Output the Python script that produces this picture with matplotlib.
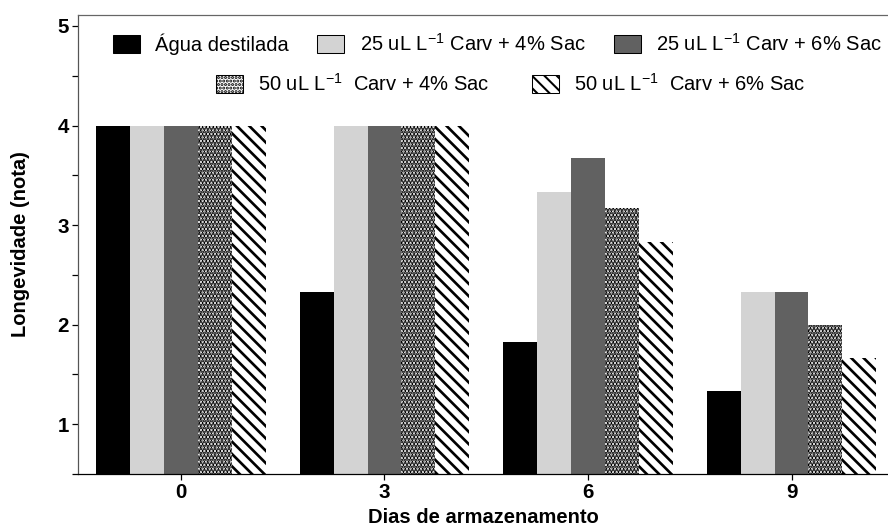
"""Longevidade (nota) por dias de armazenamento, barras agrupadas com hachura."""

import matplotlib

matplotlib.use("Agg")
import numpy as np
from matplotlib import pyplot as plt
from matplotlib.patches import Patch
from matplotlib.ticker import MultipleLocator

plt.rcParams["font.family"] = ["Liberation Sans", "DejaVu Sans"]
plt.rcParams["mathtext.fontset"] = "custom"
plt.rcParams["mathtext.rm"] = "Liberation Sans"
plt.rcParams["mathtext.it"] = "Liberation Sans"

days = ["0", "3", "6", "9"]
treatments = [
    "Água destilada",
    "25 uL L$^{-1}$ Carv + 4% Sac",
    "25 uL L$^{-1}$ Carv + 6% Sac",
    "50 uL L$^{-1}$  Carv + 4% Sac",
    "50 uL L$^{-1}$  Carv + 6% Sac",
]
agua = [4.0, 2.33, 1.83, 1.33]
carv25_sac4 = [4.0, 4.0, 3.33, 2.33]
carv25_sac6 = [4.0, 4.0, 3.67, 2.33]
carv50_sac4 = [4.0, 4.0, 3.17, 2.0]
carv50_sac6 = [4.0, 4.0, 2.83, 1.67]
series = [agua, carv25_sac4, carv25_sac6, carv50_sac4, carv50_sac6]

# estilo de cada tratamento: (cor de fundo, hachura, espessura da hachura)
styles = [
    ("#000000", None, 0),
    ("#d3d3d3", None, 0),
    ("#616161", None, 0),
    ("#ffffff", "." * 7, 1.5),
    ("#ffffff", "\\" * 4, 1.3),
]

DPI = 148
figure = plt.figure(figsize=(888 / DPI, 530 / DPI), dpi=DPI)
axis = figure.add_axes((78 / 888, 56 / 530, 810 / 888, 459 / 530))

x = np.arange(len(days))
width = 1 / 6
for index, (values, (color, hatch, hatch_width)) in enumerate(zip(series, styles)):
    bars = axis.bar(
        x + (index - 2) * width,
        values,
        width=width,
        color=color,
        edgecolor="black",
        linewidth=0,
        hatch=hatch,
    )
    for bar in bars:
        bar.set_hatch_linewidth(hatch_width)

axis.set_xlim(-0.506, 3.474)
axis.set_ylim(0.5, 5.11)
axis.set_xticks(x, days)
axis.yaxis.set_major_locator(MultipleLocator(1))
axis.yaxis.set_minor_locator(MultipleLocator(0.5))
axis.tick_params(axis="both", which="major", length=3, width=0.6, labelsize=10, pad=1.5)
axis.tick_params(axis="y", which="minor", length=3, width=0.6)
for label in axis.get_xticklabels() + axis.get_yticklabels():
    label.set_fontweight("bold")
axis.set_xlabel("Dias de armazenamento", fontsize=9.8, fontweight="bold", labelpad=3)
axis.set_ylabel("Longevidade (nota)", fontsize=9.8, fontweight="bold")
axis.yaxis.set_label_coords((30 - 78) / 810, 0.5)

axis.spines["right"].set_visible(False)
axis.spines["top"].set_color("#666666")
axis.spines["left"].set_color("#555555")
axis.spines["bottom"].set_color("#000000")
for spine in axis.spines.values():
    spine.set_linewidth(0.6)

handles = []
for color, hatch, hatch_width in styles:
    handle = Patch(facecolor=color, edgecolor="black", linewidth=0.5, hatch=hatch)
    handle.set_hatch_linewidth(hatch_width)
    handles.append(handle)
legend_options = dict(
    frameon=False,
    fontsize=9.8,
    handlelength=1.35,
    handleheight=1.0,
    handletextpad=0.75,
    borderaxespad=0,
    borderpad=0,
)
first_row = axis.legend(
    handles[:3],
    treatments[:3],
    ncol=3,
    loc="center left",
    bbox_to_anchor=(113 / 888, 1 - 44 / 530),
    bbox_transform=figure.transFigure,
    columnspacing=1.4,
    **legend_options,
)
axis.add_artist(first_row)
axis.legend(
    handles[3:],
    treatments[3:],
    ncol=2,
    loc="center left",
    bbox_to_anchor=(216 / 888, 1 - 84 / 530),
    bbox_transform=figure.transFigure,
    columnspacing=2.1,
    **legend_options,
)

figure.savefig("out.png", dpi=DPI)
plt.close(figure)
